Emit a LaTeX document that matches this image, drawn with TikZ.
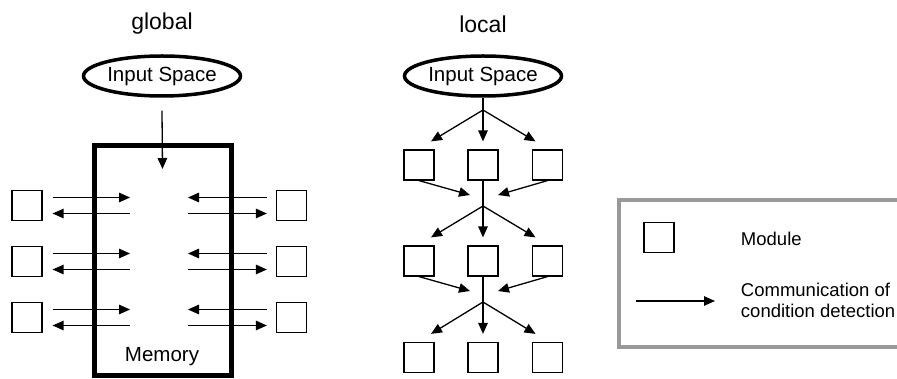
\documentclass[tikz,border=0pt]{standalone}
\usepackage{fontspec}
\setmainfont{Liberation Sans}
\usetikzlibrary{arrows.meta,shapes.geometric,calc}

\begin{document}
\begin{tikzpicture}[x=1pt,y=-1pt,line width=1.3pt,
  >={Triangle[length=11pt,width=9.5pt]},
  module/.style={draw,line width=1.2pt,minimum size=30pt,inner sep=0pt},
  space/.style={draw,ellipse,line width=3.5pt,minimum width=157pt,minimum height=40pt,inner sep=0pt,font=\fontsize{20.5}{22}\selectfont},
  title/.style={font=\fontsize{23}{24}\selectfont},
  legtext/.style={font=\fontsize{18.5}{21}\selectfont,align=left,anchor=west}]
\useasboundingbox (0,0) rectangle (897,379);
% Global
\node[title] (gt) at (162,24) {global};
\node[space] (gin) at (162,76) {Input Space};
\node[draw,line width=5pt,minimum width=137pt,minimum height=230pt,inner sep=0pt] (mem) at (162.5,260.5) {};
\node[font=\fontsize{20.5}{22}\selectfont] (memt) at (162,357) {Memory};
\draw[->] ([yshift=-13pt]gin.south) -- ([yshift=-26pt]mem.north);
\foreach \i/\y in {1/205.5,2/261.5,3/317.5}{
  \node[module] (gl\i) at (27,\y) {};
  \node[module] (gr\i) at (291.5,\y) {};
  \coordinate (ml\i) at (130,\y);
  \coordinate (mr\i) at (188,\y);
  \draw[->] ([xshift=10pt,yshift=8pt]gl\i.east) -- ([yshift=8pt]ml\i);
  \draw[->] ([yshift=-8pt]ml\i) -- ([xshift=10pt,yshift=-8pt]gl\i.east);
  \draw[->] ([xshift=-9pt,yshift=8pt]gr\i.west) -- ([yshift=8pt]mr\i);
  \draw[->] ([yshift=-8pt]mr\i) -- ([xshift=-9pt,yshift=-8pt]gr\i.west);
}
% Local
\node[title] (lt) at (483,24) {local};
\node[space] (lin) at (483,76) {Input Space};
\foreach \r/\y in {1/165,2/261,3/357.5}{
  \node[module] (l\r) at (419,\y) {};
  \node[module] (m\r) at (483,\y) {};
  \node[module] (r\r) at (547.5,\y) {};
}
\coordinate (j0) at (483,110);
\coordinate (j1) at (483,206);
\coordinate (j2) at (483,302);
\draw (lin.south) -- (j0);
\foreach \a/\b in {0/1,1/2,2/3}{
  \draw[->] (j\a) -- ([xshift=12pt,yshift=8pt]l\b.north);
  \draw[->] (j\a) -- ([yshift=8pt]m\b.north);
  \draw[->] (j\a) -- ([xshift=-12pt,yshift=8pt]r\b.north);
}
\foreach \b in {1,2}{
  \draw (m\b.south) -- (j\b);
  \draw[->] (l\b.south) -- ([xshift=-13pt,yshift=11pt]j\b);
  \draw[->] (r\b.south) -- ([xshift=15pt,yshift=11pt]j\b);
}
% Legend
\draw[gray!80,line width=4pt] (897,200) -- (619,200) -- (619,347) -- (897,347);
\node[module] (lm) at (659,237.5) {};
\node[legtext] (lmt) at (737,239) {Module};
\node[legtext] (lct) at (737,300) {Communication of\\condition detection};
\coordinate (la) at (636,301);
\draw[->] (la) -- (715,301);
\end{tikzpicture}
\end{document}
